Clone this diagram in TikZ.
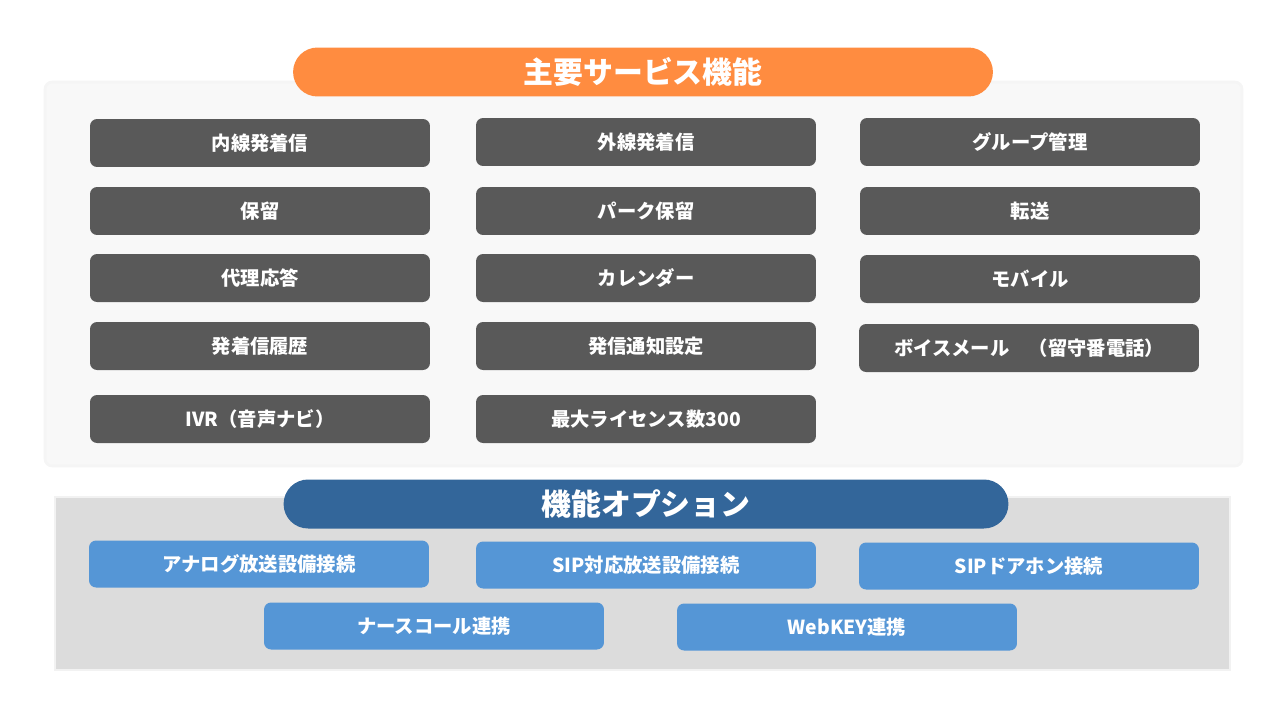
\documentclass[tikz,border=0pt]{standalone}
\usepackage{fontspec}
\setmainfont{Noto Sans CJK JP}
\definecolor{svcgray}{HTML}{595959}
\definecolor{titleorange}{HTML}{FF8C40}
\definecolor{titleblue}{HTML}{33669A}
\definecolor{optblue}{HTML}{5596D6}
\tikzset{
  svcbox/.style={fill=svcgray, rounded corners=4pt, text=white, font=\bfseries\fontsize{11}{13}\selectfont, minimum width=6.8cm, minimum height=0.96cm, inner sep=0pt},
  optbox/.style={svcbox, fill=optblue, minimum height=0.94cm},
  pill/.style={rounded corners=0.49cm, text=white, font=\bfseries\fontsize{17}{20}\selectfont, minimum width=14cm, minimum height=0.98cm, inner sep=0pt}
}
\begin{document}
\begin{tikzpicture}[x=0.02cm, y=-0.02cm]
      \useasboundingbox (0,0) rectangle (1280,720);
      % panels
      \draw [white!96!black, line width=1.5pt, fill={rgb,255:red,248;green,248;blue,248}, rounded corners=4pt] (45,82) rectangle (1242,466);
      \draw [white!95!black, line width=1.5pt, fill={rgb,255:red,220;green,220;blue,220}] (55,497) rectangle (1230,670);
      \node [pill, fill=titleorange] (svctitle) at (643,72) {主要サービス機能};
      \node [pill, fill=titleblue, minimum width=14.5cm] (opttitle) at (646,504) {機能オプション};
      % services
      \node [svcbox] (s11) at (260,143) {内線発着信};
      \node [svcbox] (s12) at (646,142) {外線発着信};
      \node [svcbox] (s13) at (1030,142) {グループ管理};
      \node [svcbox] (s21) at (260,211) {保留};
      \node [svcbox] (s22) at (646,211) {パーク保留};
      \node [svcbox] (s23) at (1030,211) {転送};
      \node [svcbox] (s31) at (260,278) {代理応答};
      \node [svcbox] (s32) at (646,278) {カレンダー};
      \node [svcbox] (s33) at (1030,279) {モバイル};
      \node [svcbox] (s41) at (260,346) {発着信履歴};
      \node [svcbox] (s42) at (646,346) {発信通知設定};
      \node [svcbox] (s43) at (1029,348) {ボイスメール\quad （留守番電話）};
      \node [svcbox] (s51) at (260,419) {IVR（音声ナビ）};
      \node [svcbox] (s52) at (646,419) {最大ライセンス数300};
      % options
      \node [optbox] (o11) at (259,564) {アナログ放送設備接続};
      \node [optbox] (o12) at (646,565) {SIP対応放送設備接続};
      \node [optbox] (o13) at (1029,566) {SIPドアホン接続};
      \node [optbox] (o21) at (434,626) {ナースコール連携};
      \node [optbox] (o22) at (847,627) {WebKEY連携};
\end{tikzpicture}
\end{document}
